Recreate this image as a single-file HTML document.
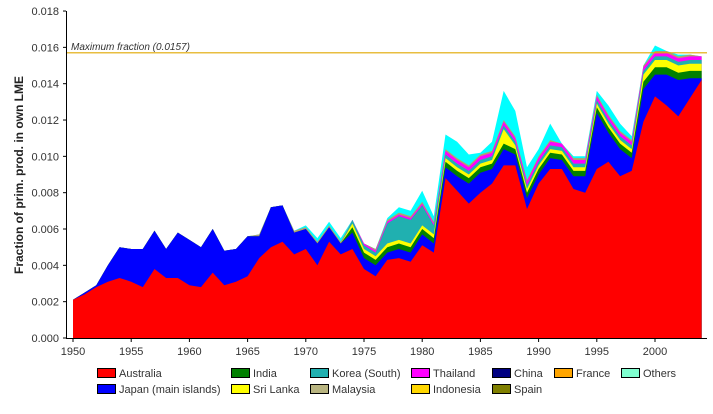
<!DOCTYPE html>
<html><head><meta charset="utf-8"><style>
body{margin:0;background:#fff;width:713px;height:409px;overflow:hidden}
text{font-family:"Liberation Sans",sans-serif}
</style></head><body>
<svg id="s" width="713" height="409" xmlns="http://www.w3.org/2000/svg"></svg>
<script>
var red=[.0021,.0024,.0028,.0031,.0033,.0031,.0028,.0038,.0033,.0033,.0029,.0028,.0036,.0029,.0031,.0034,.0044,.0050,.0053,.0046,.0049,.0040,.0053,.0046,.0049,.0038,.0034,.0043,.0044,.0042,.0051,.0047,.0088,.0081,.0074,.0080,.0085,.0095,.0095,.0071,.0085,.0093,.0093,.0082,.0080,.0093,.0097,.0089,.0092,.0119,.0133,.0128,.0122,.0132,.0142];
var blue=[.0021,.0025,.0029,.0040,.0050,.0049,.0049,.0059,.0049,.0058,.0054,.0050,.0060,.0048,.0049,.0056,.0056,.0072,.0073,.0058,.0060,.0052,.0061,.0052,.0058,.0044,.0040,.0047,.0049,.0047,.0057,.0052,.0094,.0089,.0085,.0091,.0093,.0104,.0101,.0077,.0090,.0099,.0098,.0089,.0089,.0124,.0113,.0104,.0099,.0137,.0145,.0145,.0142,.0143,.0143];
var tot=[.0021,.0025,.0029,.0040,.0050,.0049,.0049,.0059,.0049,.0058,.0054,.0050,.0060,.0048,.0049,.0056,.0057,.0072,.0073,.0059,.0062,.0055,.0064,.0055,.0065,.0052,.0049,.0066,.0072,.0070,.0081,.0067,.0112,.0108,.0101,.0102,.0108,.0136,.0125,.0094,.0104,.0118,.0107,.0100,.0100,.0136,.0128,.0118,.0111,.0150,.0161,.0158,.0156,.0156,.0155];
var X=function(i){return 73+i*11.64},Y=function(v){return 338-v*18167};
var n=red.length;
var g=[],yl=[],te=[],mg=[],o=[];
var kor={27:.0011,28:.0013,29:.0013,30:.0011,31:.0005};
for(var i=0;i<n;i++){var yr=1950+i;var b=blue[i],T=tot[i];
 var gi=yr>=1974?(yr>=1999?.0004:.0003):0;var yi=yr>=1974?(yr==1987?.0008:(yr>=1999?.0004:.0002)):0;
 var ki=kor[i]!==undefined?kor[i]:(yr>=1974?.0002:0);var mi=yr>=1982?.0002:(yr>=1974?.0001:0);
 var a=Math.min(T,b+gi);g.push(a);a=Math.min(T,a+yi);yl.push(a);a=Math.min(T,a+ki);te.push(a);a=Math.min(T,a+mi);mg.push(a);o.push(Math.min(T,a+.0001));}
var layers=[[tot,'#00ffff'],[o,'#b0a070'],[mg,'#ff00ff'],[te,'#20b0b0'],[yl,'#ffff00'],[g,'#008000'],[blue,'#0000ff'],[red,'#ff0000']];
var h='';
layers.forEach(function(l){var p='M'+X(0)+' 338';for(var i=0;i<n;i++)p+=' L'+X(i).toFixed(1)+' '+Y(l[0][i]).toFixed(1);p+=' L'+X(n-1).toFixed(1)+' 338Z';h+='<path d="'+p+'" fill="'+l[1]+'"/>';});
h+='<line x1="66" y1="52.8" x2="707" y2="52.8" stroke="#e0a800" stroke-width="1.2"/>';
h+='<text x="71" y="50" font-size="10" font-style="italic" fill="#333">Maximum fraction (0.0157)</text>';
h+='<line x1="66.5" y1="11" x2="66.5" y2="339" stroke="#000"/><line x1="66" y1="338.5" x2="707" y2="338.5" stroke="#000"/>';
for(var k=0;k<=9;k++){var yy=338-k*36.33;h+='<line x1="63" x2="66" y1="'+yy+'" y2="'+yy+'" stroke="#000"/><text x="59" y="'+(yy+4)+'" font-size="11" text-anchor="end" fill="#333">'+(k*0.002).toFixed(3)+'</text>';}
for(var k=0;k<=10;k++){var xx=73+k*58.2;h+='<line x1="'+xx+'" x2="'+xx+'" y1="338" y2="342" stroke="#000"/>';h+='<text x="'+xx+'" y="355" font-size="11" text-anchor="middle" fill="#333">'+(1950+k*5)+'</text>';}
h+='<text transform="translate(23,175) rotate(-90)" font-size="12" font-weight="bold" text-anchor="middle" fill="#222">Fraction of prim. prod. in own LME</text>';
var leg=[[97,368,'#ff0000','Australia'],[231,368,'#008000','India'],[310,368,'#20b0b0','Korea (South)'],[411,368,'#ff00ff','Thailand'],[492,368,'#000080','China'],[554,368,'#ffa500','France'],[621,368,'#80ffd0','Others'],
[97,384,'#0000ff','Japan (main islands)'],[231,384,'#ffff00','Sri Lanka'],[310,384,'#b8b480','Malaysia'],[411,384,'#ffd700','Indonesia'],[492,384,'#808000','Spain']];
leg.forEach(function(l){h+='<rect x="'+l[0]+'.5" y="'+l[1]+'.5" width="18" height="9" fill="'+l[2]+'" stroke="#000"/><text x="'+(l[0]+22)+'" y="'+(l[1]+9)+'" font-size="11" fill="#333">'+l[3]+'</text>';});
document.getElementById('s').innerHTML=h;
</script>
</body></html>
